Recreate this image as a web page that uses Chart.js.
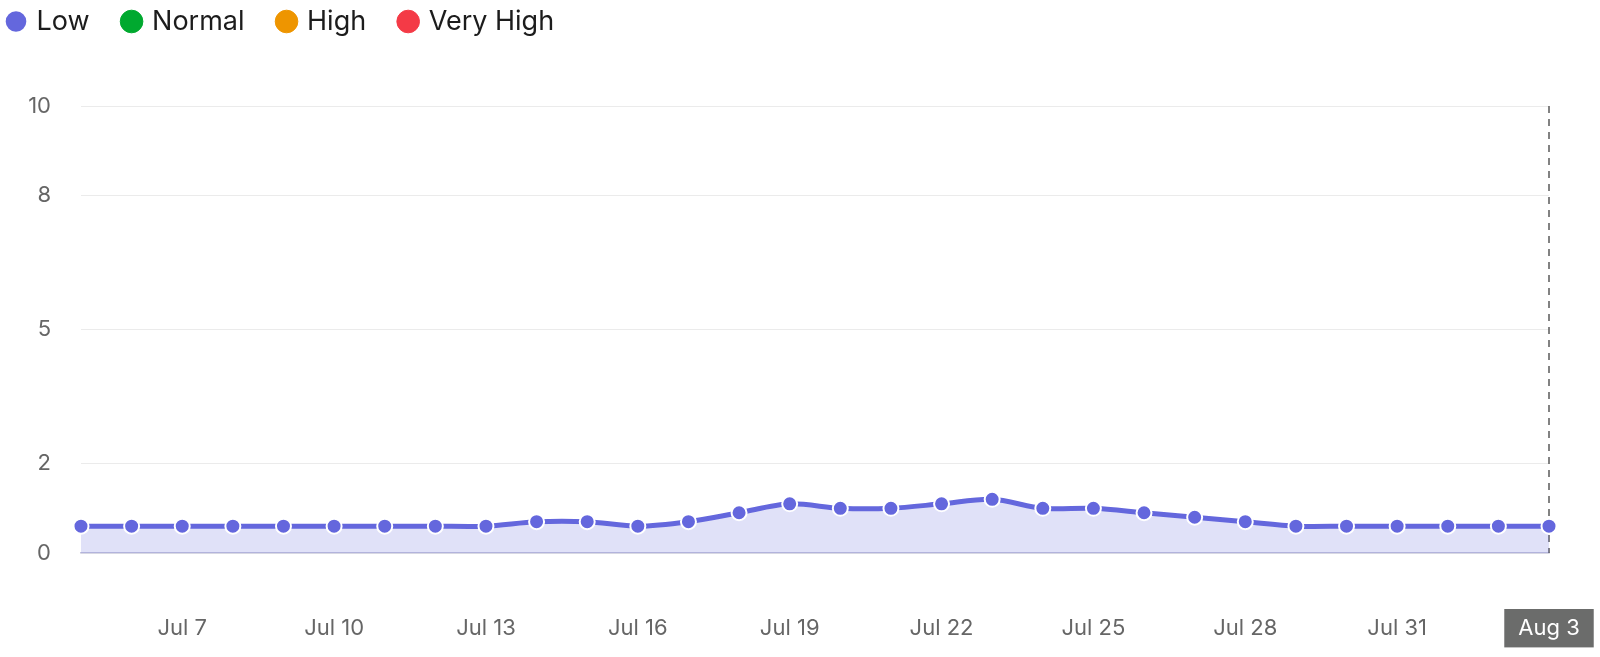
<!DOCTYPE html>
<html>
<head>
<meta charset="utf-8">
<script src="https://cdn.jsdelivr.net/npm/chart.js@4.4.1/dist/chart.umd.min.js"></script>
<style>
  html, body { margin: 0; padding: 0; background: #ffffff; }
  #wrap { width: 1600px; height: 657px; position: relative; }
</style>
</head>
<body>
<div id="wrap"><canvas id="c"></canvas></div>
<script>
const categories = ['Jul 5','Jul 6','Jul 7','Jul 8','Jul 9','Jul 10','Jul 11','Jul 12','Jul 13','Jul 14',
  'Jul 15','Jul 16','Jul 17','Jul 18','Jul 19','Jul 20','Jul 21','Jul 22','Jul 23','Jul 24',
  'Jul 25','Jul 26','Jul 27','Jul 28','Jul 29','Jul 30','Jul 31','Aug 1','Aug 2','Aug 3'];
const lowValues = [0.6,0.6,0.6,0.6,0.6,0.6,0.6,0.6,0.6,0.7,
  0.7,0.6,0.7,0.9,1.1,1.0,1.0,1.1,1.2,1.0,
  1.0,0.9,0.8,0.7,0.6,0.6,0.6,0.6,0.6,0.6];
const normalValues = [];
const highValues = [];
const veryHighValues = [];
const yTickValues = [0, 2, 5, 8, 10];
const xTickLabels = ['Jul 7','Jul 10','Jul 13','Jul 16','Jul 19','Jul 22','Jul 25','Jul 28','Jul 31','Aug 3'];
const markerLabel = 'Aug 3';

Chart.defaults.font.family = 'Inter, "Noto Sans", sans-serif';

const legendSpacing = {
  id: 'legendSpacing',
  afterInit(chart) {
    const lg = chart.legend;
    if (!lg) return;
    const fit = lg.fit;
    lg.fit = function () { fit.call(this); this.height += 61; };
  }
};

const markerLine = {
  id: 'markerLine',
  beforeDatasetsDraw(chart) {
    const idx = categories.indexOf(markerLabel);
    if (idx < 0) return;
    const x = chart.scales.x.getPixelForValue(idx);
    const { top, bottom } = chart.chartArea;
    const ctx = chart.ctx;
    ctx.save();
    ctx.strokeStyle = '#5a5a5a';
    ctx.lineWidth = 1.5;
    ctx.setLineDash([7, 6]);
    ctx.beginPath();
    ctx.moveTo(x, top);
    ctx.lineTo(x, bottom);
    ctx.stroke();
    ctx.restore();
  }
};

new Chart(document.getElementById('c'), {
  type: 'line',
  data: {
    labels: categories,
    datasets: [
      {
        label: 'Low',
        data: lowValues,
        borderColor: '#6467DD',
        backgroundColor: 'rgba(100,103,221,0.2)',
        pointBackgroundColor: '#6467DD',
        pointBorderColor: '#ffffff',
        pointBorderWidth: 2,
        pointRadius: 7.5,
        borderWidth: 5,
        tension: 0.3,
        fill: 'origin'
      },
      { label: 'Normal', data: normalValues, borderColor: '#00A92F', backgroundColor: '#00A92F', pointBackgroundColor: '#00A92F' },
      { label: 'High', data: highValues, borderColor: '#EE9500', backgroundColor: '#EE9500', pointBackgroundColor: '#EE9500' },
      { label: 'Very High', data: veryHighValues, borderColor: '#F43A46', backgroundColor: '#F43A46', pointBackgroundColor: '#F43A46' }
    ]
  },
  options: {
    responsive: true,
    maintainAspectRatio: false,
    animation: false,
    layout: { padding: { top: -27, left: -26, right: 51, bottom: 4 } },
    plugins: {
      tooltip: { enabled: false },
      legend: {
        display: true,
        position: 'top',
        align: 'start',
        labels: {
          usePointStyle: true,
          pointStyle: 'circle',
          boxWidth: 14,
          boxHeight: 16,
          padding: 35,
          color: '#1c1c1c',
          font: { size: 27 }
        }
      }
    },
    scales: {
      x: {
        offset: false,
        grid: { display: false, drawTicks: false },
        border: { display: true, color: '#c6c6dc', width: 1.5 },
        afterFit: (scale) => { scale.height = 100; scale.paddingRight = 0; scale.paddingLeft = 0; },
        ticks: {
          autoSkip: false,
          maxRotation: 0,
          padding: 62,
          color: (ctx) => (categories[ctx.index] === markerLabel ? '#ffffff' : '#666666'),
          font: { size: 22 },
          showLabelBackdrop: (ctx) => categories[ctx.index] === markerLabel,
          backdropColor: '#6b6c6b',
          backdropPadding: { x: 14, y: 6 },
          callback: function (value, index) {
            const lbl = categories[index];
            return xTickLabels.includes(lbl) ? lbl : '';
          }
        }
      },
      y: {
        min: 0,
        max: 10,
        afterBuildTicks: (scale) => { scale.ticks = yTickValues.map(v => ({ value: v })); },
        afterFit: (scale) => { scale.width = 107; },
        grid: { color: '#ebebeb', lineWidth: 1, drawTicks: false },
        border: { display: false },
        ticks: {
          padding: 30,
          color: '#666666',
          font: { size: 22 }
        }
      }
    }
  },
  plugins: [legendSpacing, markerLine]
});
</script>
</body>
</html>
